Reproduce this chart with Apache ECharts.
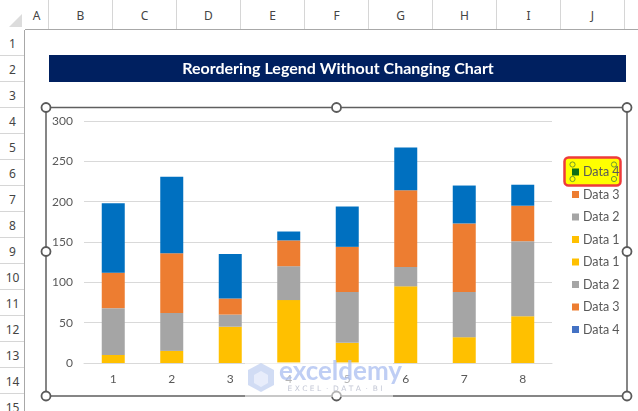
<!DOCTYPE html>
<html>
<head>
<meta charset="utf-8">
<script src="https://cdn.jsdelivr.net/npm/echarts@6/dist/echarts.min.js"></script>
<style>
  html,body{margin:0;padding:0;background:#fff;overflow:hidden;}
  #sheet{position:absolute;left:0;top:0;width:638px;height:411px;font-family:"Noto Sans","DejaVu Sans",sans-serif;}
  .ch{position:absolute;top:0;height:30px;line-height:32px;text-align:center;color:#444;font-size:12px;border-right:1px solid #d6d6d6;box-sizing:border-box;}
  .rh{position:absolute;left:0;width:25px;height:26px;line-height:28px;text-align:center;color:#444;font-size:12px;border-bottom:1px solid #d6d6d6;box-sizing:border-box;}
  #chart{position:absolute;left:0;top:0;width:638px;height:411px;}
</style>
</head>
<body>
<div id="sheet"></div>
<div id="chart"></div>
<script>
// ---- data ----
const categories = ['1', '2', '3', '4', '5', '6', '7', '8'];
const data1 = [10, 15, 45, 78, 25, 95, 32, 58];
const data2 = [58, 47, 15, 42, 63, 24, 56, 93];
const data3 = [44, 74, 20, 32, 56, 95, 85, 44];
const data4 = [86, 95, 55, 11, 50, 53, 47, 26];
const yTicks = [0, 50, 100, 150, 200, 250, 300];
const seriesNames = ['Data 1', 'Data 2', 'Data 3', 'Data 4'];
const legendNames = ['Data 4', 'Data 3', 'Data 2', 'Data 1', 'Data 1', 'Data 2', 'Data 3', 'Data 4'];
const colLetters = ['A', 'B', 'C', 'D', 'E', 'F', 'G', 'H', 'I', 'J', 'K'];
const titleText = 'Reordering Legend Without Changing Chart';

// ---- spreadsheet headers ----
const sheet = document.getElementById('sheet');
const colEdges = [25, 49, 113, 177, 241, 305, 369, 433, 497, 561, 625, 689];
let html = '';
html += '<svg style="position:absolute;left:0;top:0" width="25" height="30"><polygon points="22,14 22,27 9,27" fill="#dcdcdc"/></svg>';
for (let i = 0; i < colLetters.length; i++) {
  html += '<div class="ch" style="left:' + colEdges[i] + 'px;width:' + (colEdges[i + 1] - colEdges[i]) + 'px">' + colLetters[i] + '</div>';
}
for (let r = 1; r <= 15; r++) {
  html += '<div class="rh" style="top:' + (30 + 26 * (r - 1)) + 'px">' + r + '</div>';
}
html += '<div style="position:absolute;left:25px;top:29px;width:613px;height:1px;background:#a8a8a8"></div>';
html += '<div style="position:absolute;left:24px;top:30px;width:1px;height:381px;background:#a8a8a8"></div>';
sheet.innerHTML = html;

// ---- chart ----
const chart = echarts.init(document.getElementById('chart'), null, { renderer: 'canvas' });
const barColors = ['#FFC000', '#A5A5A5', '#ED7D31', '#0070C0'];
const legendColors = ['#0B6E16', '#ED7D31', '#A5A5A5', '#FFC000', '#FFC000', '#A5A5A5', '#ED7D31', '#4472C4'];
const values = [data1, data2, data3, data4];
const ZW = '\u200b';

const series = [];
seriesNames.forEach((n, i) => {
  series.push({
    name: n, type: 'bar', stack: 'total', barWidth: 23,
    data: values[i], itemStyle: { color: barColors[i] }, emphasis: { disabled: true }
  });
});
// dummy (empty) series providing the extra legend entries
seriesNames.forEach((n, i) => {
  series.push({
    name: n + ZW, type: 'bar', stack: 'total', barWidth: 23,
    data: [], itemStyle: { color: barColors[i] }
  });
});

const legendData = legendNames.map((n, i) => ({
  name: i < 4 ? n + ZW : n,
  itemStyle: { color: legendColors[i] }
}));

const handle = (x, y) => ({
  type: 'circle', shape: { cx: x, cy: y, r: 4.5 }, z: 20,
  style: { fill: '#fff', stroke: '#5a5a5a', lineWidth: 1.8 }
});
const gHandle = (x, y) => ({
  type: 'circle', shape: { cx: x, cy: y, r: 2.6 }, z: 20,
  style: { fill: '#FFFF00', stroke: '#6E9B2E', lineWidth: 1 }
});

chart.setOption({
  animation: false,
  backgroundColor: 'transparent',
  textStyle: { fontFamily: 'Lato, "Noto Sans", sans-serif' },
  grid: { left: 84, right: 86, top: 121, bottom: 48, containLabel: false },
  xAxis: {
    type: 'category', data: categories,
    axisLine: { lineStyle: { color: '#d9d9d9', width: 1 } },
    axisTick: { show: false },
    axisLabel: { color: '#595959', fontSize: 12, margin: 10 }
  },
  yAxis: {
    type: 'value', min: yTicks[0], max: yTicks[yTicks.length - 1], interval: 50,
    axisLine: { show: false }, axisTick: { show: false },
    splitLine: { lineStyle: { color: '#d9d9d9', width: 1 } },
    axisLabel: { color: '#595959', fontSize: 12, margin: 11 }
  },
  legend: {
    orient: 'vertical', left: 572, top: 165, padding: 0,
    itemWidth: 7, itemHeight: 7, itemGap: 8.5, icon: 'rect',
    selectedMode: false,
    textStyle: { color: '#595959', fontSize: 12.5, lineHeight: 14, padding: [0, 0, 0, -1] },
    formatter: n => n.replace(/\u200b/g, ''),
    data: legendData
  },
  graphic: [
    // title band
    { type: 'rect', shape: { x: 49, y: 55, width: 577, height: 27 }, style: { fill: '#002060' }, z: 1 },
    { type: 'text', x: 338, y: 69, z: 2,
      style: { text: titleText, fill: '#fff', font: 'bold 16px Lato, "Noto Sans", sans-serif', textAlign: 'center', textVerticalAlign: 'middle' } },
    // chart frame
    { type: 'rect', shape: { x: 46, y: 107.5, width: 581, height: 288.5 }, style: { fill: 'none', stroke: '#5f5f5f', lineWidth: 1.5 }, z: 15 },
    handle(46, 107.5), handle(336.5, 107.5), handle(627, 107.5),
    handle(46, 251.5), handle(627, 251.5),
    handle(46, 396), handle(336.5, 396), handle(627, 396),
    // selected legend entry highlight
    { type: 'rect', shape: { x: 564.5, y: 157.5, width: 56, height: 28, r: 4 }, style: { fill: '#FFFF00', stroke: '#EE3B3B', lineWidth: 2.5 }, z: 1 },
    gHandle(572.5, 164.5), gHandle(614, 164.5), gHandle(572.5, 179), gHandle(614, 179),
    // watermark
    { type: 'rect', shape: { x: 245, y: 362, width: 148, height: 35 }, style: { fill: 'rgba(255,255,255,0.55)' }, z: 30 },
    { type: 'polygon', shape: { points: [[261, 363], [274, 370], [274, 385], [261, 392], [248, 385], [248, 370]] }, style: { fill: 'rgba(190,205,240,0.7)' }, z: 31 },
    { type: 'polygon', shape: { points: [[261, 371], [268, 375], [268, 383], [261, 387], [254, 383], [254, 375]] }, style: { fill: 'rgba(235,240,252,0.9)' }, z: 32 },
    { type: 'text', x: 279, y: 372, z: 33,
      style: { text: 'exceldemy', fill: 'rgba(170,190,240,0.75)', font: 'bold 26px Lato, "Open Sans", sans-serif', textVerticalAlign: 'middle' } },
    { type: 'text', x: 335, y: 389, z: 33,
      style: { text: 'E X C E L  ·  D A T A  ·  B I', fill: 'rgba(170,175,195,0.7)', font: '7.5px "DejaVu Sans", sans-serif', textAlign: 'center', textVerticalAlign: 'middle' } }
  ],
  series: series
});
</script>
</body>
</html>
